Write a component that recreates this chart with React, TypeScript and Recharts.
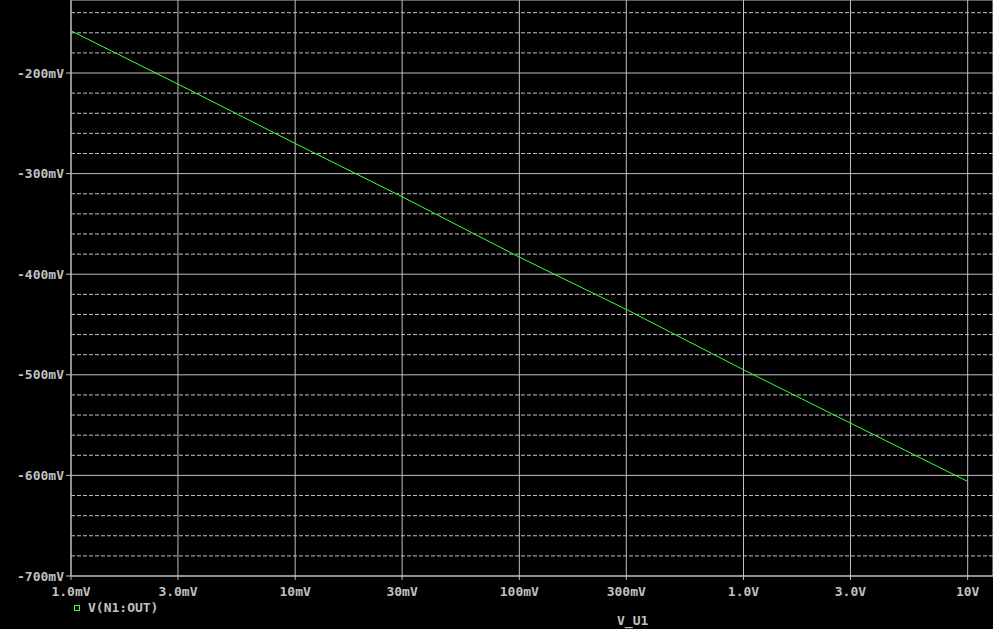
import {
  LineChart,
  Line,
  XAxis,
  YAxis,
  CartesianGrid,
  ReferenceLine,
} from "recharts";

// sweep of V_U1 (mV) and the output voltage V(N1:OUT) (mV)
const sweepMv = [1, 3, 10, 30, 100, 300, 1000, 3000, 10000];
const outMv = [-158, -211, -270, -323, -383, -435, -495, -548, -606];

const xTicks = [1, 3, 10, 30, 100, 300, 1000, 3000, 10000];
const xTickLabels = ["1.0mV", "3.0mV", "10mV", "30mV", "100mV", "300mV", "1.0V", "3.0V", "10V"];
const yTicks = [-700, -600, -500, -400, -300, -200];
const yMinorGrid = [-680, -660, -640, -620, -580, -560, -540, -520, -480, -460, -440, -420, -380, -360, -340, -320, -280, -260, -240, -220, -180, -160, -140];

const data = sweepMv.map((v, i) => ({ sweep: v, out: outMv[i] }));

const GRID = "#c0c0c0";
const TRACE = "#3cff3c";
const FONT = "'DejaVu Sans Mono', monospace";

const tickStyle = { fill: GRID, fontSize: 13, fontWeight: 700, fontFamily: FONT };

function xLabel(v: number) {
  const i = xTicks.indexOf(v);
  return i >= 0 ? xTickLabels[i] : "";
}

export default function App() {
  return (
    <div
      style={{
        position: "fixed",
        left: 0,
        top: 0,
        width: 993,
        height: 629,
        background: "#000",
        overflow: "hidden",
      }}
    >
      <LineChart
        width={993}
        height={629}
        data={data}
        margin={{ top: 0, right: 0, bottom: 0, left: 0 }}
      >
        <CartesianGrid stroke={GRID} strokeWidth={1} />
        {yMinorGrid.map((v) => (
          <ReferenceLine key={v} y={v} stroke={GRID} strokeDasharray="4 2" />
        ))}
        <XAxis
          dataKey="sweep"
          type="number"
          scale="log"
          domain={[1, 12970]}
          allowDataOverflow
          ticks={xTicks}
          tickFormatter={xLabel}
          height={53}
          stroke={GRID}
          tickSize={4}
          tickMargin={7}
          tick={tickStyle}
          interval={0}
        />
        <YAxis
          type="number"
          domain={[-700, -127.4]}
          allowDataOverflow
          ticks={yTicks}
          tickFormatter={(v: number) => `${v}mV`}
          width={71}
          stroke={GRID}
          tickSize={5}
          tickMargin={2}
          tick={tickStyle}
          interval={0}
        />
        <Line
          type="linear"
          dataKey="out"
          stroke={TRACE}
          strokeWidth={1}
          dot={false}
          isAnimationActive={false}
        />
      </LineChart>
      <div
        style={{
          position: "absolute",
          left: 74,
          top: 600,
          display: "flex",
          alignItems: "center",
          color: GRID,
          fontFamily: FONT,
          fontWeight: 700,
          fontSize: 13,
        }}
      >
        <span
          style={{
            display: "inline-block",
            width: 4,
            height: 4,
            border: `1px solid ${TRACE}`,
            marginRight: 8,
          }}
        />
        V(N1:OUT)
      </div>
      <div
        style={{
          position: "absolute",
          left: 617,
          top: 613,
          color: GRID,
          fontFamily: FONT,
          fontWeight: 700,
          fontSize: 13,
        }}
      >
        V_U1
      </div>
    </div>
  );
}
